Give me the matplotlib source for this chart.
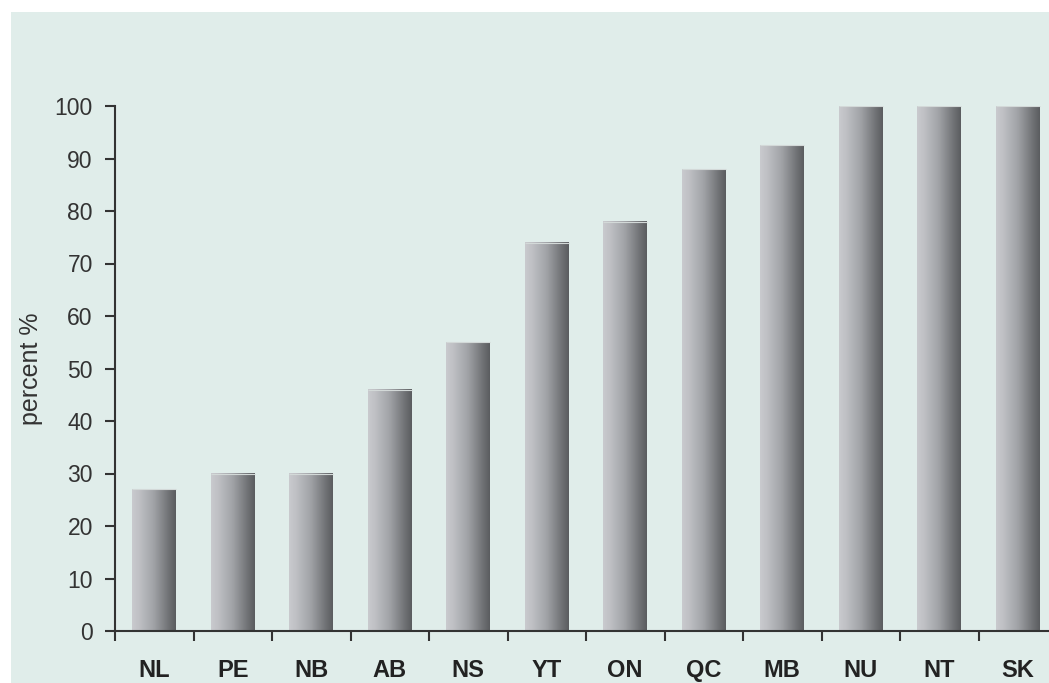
import matplotlib
matplotlib.use("Agg")
import matplotlib.pyplot as plt
import numpy as np
from matplotlib.colors import LinearSegmentedColormap
from matplotlib.patches import Rectangle

plt.rcParams["font.family"] = ["Liberation Sans", "DejaVu Sans"]

categories = ["NL", "PE", "NB", "AB", "NS", "YT", "ON", "QC", "MB", "NU", "NT", "SK"]
values = [27, 30, 30, 46, 55, 74, 78, 88, 92.5, 100, 100, 100]
yticks = list(range(0, 101, 10))

W, H = 1049, 683
fig = plt.figure(figsize=(W / 100, H / 100), dpi=100)
fig.patch.set_facecolor("white")
bg = "#e0edea"
fig.patches.append(Rectangle((11 / W, 0), 1 - 11 / W, 1 - 12 / H,
                             transform=fig.transFigure, facecolor=bg,
                             edgecolor="none", zorder=-10))

left, right, bottom, top = 115, 1057, 631, 106
ax = fig.add_axes([left / W, 1 - bottom / H, (right - left) / W, (bottom - top) / H])
ax.set_facecolor("none")
ax.set_zorder(5)

cmap = LinearSegmentedColormap.from_list(
    "bar", [(0.0, "#c9cace"), (0.15, "#c0c1c5"), (0.5, "#a0a2a6"), (0.85, "#6e7073"), (1.0, "#5a5c5f")])
grad = np.linspace(0, 1, 256).reshape(1, -1)
n = len(categories)
bw = 0.56
xs = np.arange(n)
for x, v in zip(xs, values):
    x0, x1 = x - bw / 2, x + bw / 2
    ax.imshow(grad, cmap=cmap, extent=[x0, x1, 0, v], aspect="auto",
              interpolation="bicubic", zorder=2)
    ax.plot([x0, x1], [v, v], color="#d3d9d8", linewidth=0.8, zorder=3,
            solid_capstyle="butt")

ax.set_xlim(-0.5, n - 0.5)
ax.set_ylim(0, 100)
for s in ["top", "right"]:
    ax.spines[s].set_visible(False)
for s in ["left", "bottom"]:
    ax.spines[s].set_color("#333333")
    ax.spines[s].set_linewidth(1.5)

ax.set_yticks(yticks)
ax.set_yticklabels([str(t) for t in yticks], fontsize=16.5, color="#333333")
ax.tick_params(axis="y", direction="out", length=7, width=1.5, color="#333333", pad=9)

ax.set_xticks(xs)
ax.set_xticklabels(categories, fontsize=17, fontweight="bold", color="#222222")
ax.tick_params(axis="x", which="major", length=0, pad=20)
ax.set_xticks(np.arange(n + 1) - 0.5, minor=True)
ax.tick_params(axis="x", which="minor", direction="out", length=7, width=1.5, color="#333333")

ax.set_ylabel("percent %", fontsize=18, color="#333333", labelpad=8)

fig.savefig("out.png", dpi=100, facecolor="white")
